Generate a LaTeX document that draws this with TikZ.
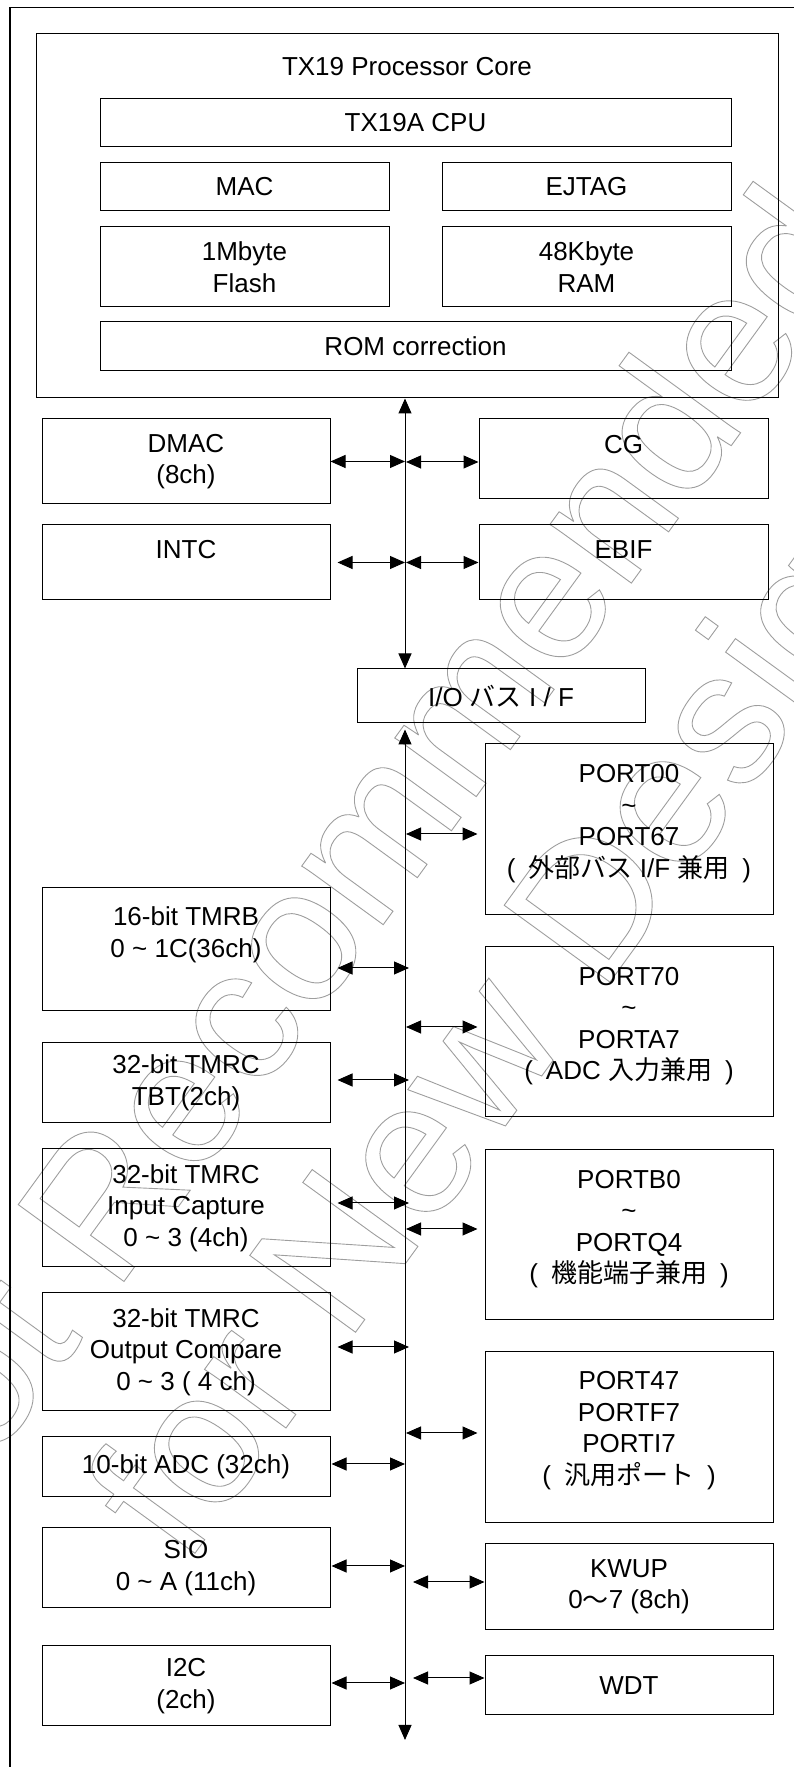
\documentclass[tikz,border=0pt]{standalone}
\usepackage{fontspec}
\setmainfont{Liberation Sans}
\newfontfamily\jpfont{Noto Sans CJK JP}
\usetikzlibrary{positioning,arrows.meta}
\definecolor{wmgray}{gray}{0.62}
\newcommand{\jp}[1]{{\jpfont #1}}
\newcommand{\til}{\textasciitilde}
\newcommand{\padline}[1]{\\[#1]\mbox{}}
\newcommand{\outlined}[1]{\special{pdf:literal direct 1 Tr 0.9 w}#1\special{pdf:literal direct 0 Tr}}

\begin{document}
\begin{tikzpicture}
  \tikzstyle{box}=[draw, rectangle, line width=1pt, align=center, font=\fontsize{26pt}{31.5pt}\selectfont]
  \tikzstyle{titletext}=[inner sep=0pt, font=\fontsize{26pt}{31.5pt}\selectfont]
  \tikzstyle{biarrow}=[line width=1pt, {Triangle[length=15pt,width=13pt]}-{Triangle[length=15pt,width=13pt]}]
  \tikzstyle{watermark}=[color=wmgray, rotate=54, anchor=base west, inner sep=0pt, font=\fontsize{190pt}{190pt}\selectfont]
  \useasboundingbox (0pt,0pt) rectangle (794pt,1767pt);
  % watermark
  \node (wmtop) [watermark] at (-90pt,191pt) {\outlined{Not Recommended}};
  \node (wmbot) [watermark] at (185pt,200pt) {\outlined{for New Design}};
  % outer frame
  \draw [line width=1.3pt] (10pt,-5pt) -- (10pt,1759.5pt) -- (800pt,1759.5pt);
  % processor core
  \node (core) [box, minimum width=742pt, minimum height=364pt] at (407pt,1551pt) {};
  \node (coretitle) [titletext, below=24pt of core.north] {TX19 Processor Core};
  \node (cpu) [box, minimum width=631pt, minimum height=48pt] at (415.5pt,1644pt) {TX19A CPU};
  \node (mac) [box, minimum width=289pt, minimum height=48pt] at (244.5pt,1580pt) {MAC};
  \node (ejtag) [box, minimum width=289pt, minimum height=48pt] at (586.5pt,1580pt) {EJTAG};
  \node (flash) [box, minimum width=289pt, minimum height=80pt] at (244.5pt,1500pt) {1Mbyte\\Flash};
  \node (ram) [box, minimum width=289pt, minimum height=80pt] at (586.5pt,1500pt) {48Kbyte\\RAM};
  \node (rom) [box, minimum width=631pt, minimum height=49pt] at (415.5pt,1420.5pt) {ROM correction};
  % upper peripherals
  \node (dmac) [box, minimum width=288pt, minimum height=85pt] at (186pt,1305.5pt) {DMAC\\(8ch)};
  \node (cg) [box, minimum width=289pt, minimum height=80pt] at (623.5pt,1308pt) {CG\padline{-2pt}};
  \node (intc) [box, minimum width=288pt, minimum height=75pt] at (186pt,1204.5pt) {INTC\padline{-6pt}};
  \node (ebif) [box, minimum width=289pt, minimum height=75pt] at (623.5pt,1204.5pt) {EBIF\padline{-6pt}};
  \node (io) [box, minimum width=288pt, minimum height=54pt] at (501pt,1071pt) {I/O \jp{バス} I / F};
  % left peripherals
  \node (tmrb) [box, minimum width=288pt, minimum height=123pt] at (186pt,817.5pt) {16-bit TMRB\\0 \til{} 1C(36ch)\padline{3pt}};
  \node (tbt) [box, minimum width=288pt, minimum height=80pt] at (186pt,684pt) {32-bit TMRC\\TBT(2ch)};
  \node (ic) [box, minimum width=288pt, minimum height=118pt] at (186pt,559pt) {32-bit TMRC\\Input Capture\\0 \til{} 3 (4ch)};
  \node (oc) [box, minimum width=288pt, minimum height=118pt] at (186pt,415pt) {32-bit TMRC\\Output Compare\\0 \til{} 3 ( 4 ch)};
  \node (adc) [box, minimum width=288pt, minimum height=60pt] at (186pt,300pt) {10-bit ADC (32ch)};
  \node (sio) [box, minimum width=288pt, minimum height=80pt] at (186pt,199pt) {SIO\\0 \til{} A (11ch)};
  \node (i2c) [box, minimum width=288pt, minimum height=80pt] at (186pt,81pt) {I2C\\(2ch)};
  % right peripherals
  \node (port00) [box, minimum width=288pt, minimum height=171pt] at (629pt,937.5pt) {PORT00\\\til\\PORT67\\(\hspace{0.5em}\jp{外部バス} I/F \jp{兼用}\hspace{0.5em})\padline{-14pt}};
  \node (port70) [box, minimum width=288pt, minimum height=170pt] at (629pt,735pt) {PORT70\\\til\\PORTA7\\(\hspace{0.5em}ADC \jp{入力兼用}\hspace{0.5em})\padline{-14pt}};
  \node (portb0) [box, minimum width=288pt, minimum height=170pt] at (629pt,532pt) {PORTB0\\\til\\PORTQ4\\(\hspace{0.5em}\jp{機能端子兼用}\hspace{0.5em})\padline{-14pt}};
  \node (port47) [box, minimum width=288pt, minimum height=171pt] at (629pt,329.5pt) {PORT47\\PORTF7\\PORTI7\\(\hspace{0.5em}\jp{汎用ポート}\hspace{0.5em})\padline{-12pt}};
  \node (kwup) [box, minimum width=288pt, minimum height=86pt] at (629pt,180pt) {KWUP\\0\jp{～}7 (8ch)};
  \node (wdt) [box, minimum width=288pt, minimum height=59pt] at (629pt,81.5pt) {WDT};
  % bus
  \coordinate (bus) at (405pt,27pt);
  \draw [biarrow] (core.south -| bus) -- (io.north -| bus);
  \draw [biarrow] ([yshift=-6pt]io.south -| bus) -- (bus);
  % left connectors: block/dy/gap at box/gap at bus
  \foreach \blk/\dy/\gapbox/\gapbus in {dmac/0/0/0, intc/0/7/0, tmrb/-18.5/7/-4, tbt/3/7/-4, ic/5/7/-4, oc/5/7/-4, adc/3/1/0, sio/2/1/0, i2c/3/1/0}
    \draw [biarrow, shorten <=\gapbox pt, shorten >=\gapbus pt] ([yshift=\dy pt]\blk.east) -- ([yshift=\dy pt]\blk.east -| bus);
  % right connectors
  \foreach \blk/\dy/\gapbus/\gapbox in {cg/-3/1/0, ebif/0/1/0, port00/-4.5/1/7, port70/5/1/7, portb0/6/1/7, port47/4.5/1/7, kwup/5/8/0, wdt/7.5/8/0}
    \draw [biarrow, shorten <=\gapbus pt, shorten >=\gapbox pt] ([yshift=\dy pt]\blk.west -| bus) -- ([yshift=\dy pt]\blk.west);
\end{tikzpicture}
\end{document}
